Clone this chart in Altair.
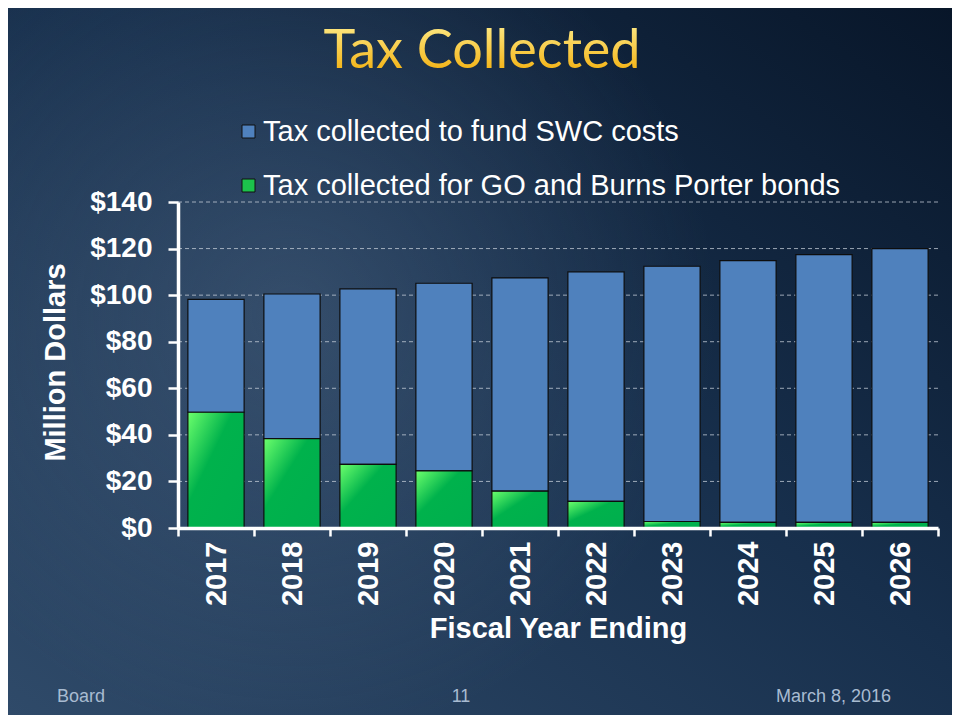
import altair as alt
import pandas as pd

# ---------------- data ----------------
years = ["2017", "2018", "2019", "2020", "2021", "2022", "2023", "2024", "2025", "2026"]
swc_costs = [48.5, 62.1, 75.4, 80.6, 91.6, 98.6, 109.6, 112.4, 115.0, 117.6]
go_bonds = [49.7, 38.4, 27.3, 24.5, 15.8, 11.4, 2.8, 2.4, 2.4, 2.4]
y_ticks = [0, 20, 40, 60, 80, 100, 120, 140]
grid_values = [20, 40, 60, 80, 100, 120, 140]
series_names = ["Tax collected to fund SWC costs", "Tax collected for GO and Burns Porter bonds"]
series_colors = ["#4f81bd", "#1cc24c"]
title_text = ["Tax Collected"]
x_title = "Fiscal Year Ending"
y_title = "Million Dollars"
footer_left = ["Board"]
footer_mid = ["11"]
footer_right = ["March 8, 2016"]

# ---------------- layout ----------------
W, H = 760, 326
PAD = {"left": 170, "top": 194, "right": 14, "bottom": 187}
FONT = "Liberation Sans"

bars_df = pd.DataFrame({"year": years, "swc": swc_costs, "go": go_bonds})
bars_df["top"] = bars_df["go"] + bars_df["swc"]  # stacked top of the SWC segment
bars_df["zero"] = 0

x_axis = alt.Axis(
    title=x_title, labelAngle=-90, labelFont=FONT, labelFontSize=29, labelFontWeight="bold",
    labelColor="white", labelPadding=5, tickSize=8, tickWidth=2.5, tickColor="white",
    tickBand="extent", domainColor="white", domainWidth=3.5, titleFont=FONT,
    titleFontSize=29, titleFontWeight="bold", titleColor="white", titleBaseline="alphabetic",
    titleY=109, grid=False, zindex=1, labelBaseline="middle", labelAlign="right",
)
y_axis = alt.Axis(
    title=y_title, values=y_ticks, labelExpr="'$' + datum.value", labelFont=FONT,
    labelFontSize=28, labelFontWeight="bold", labelColor="white", labelPadding=16,
    tickSize=10, tickWidth=2.5, tickColor="white", domainColor="white", domainWidth=3.5,
    titleFont=FONT, titleFontSize=29, titleFontWeight="bold", titleColor="white",
    titleX=-108, titleY=160, titleBaseline="bottom", grid=False, zindex=1,
)
x_scale = alt.Scale(domain=years, paddingInner=0, paddingOuter=0)
y_scale = alt.Scale(domain=[0, 140], nice=False, zero=True)

# background
bg = alt.Chart(pd.DataFrame({"a": [0]})).mark_rect(
    color=alt.LinearGradient(
        gradient="linear", x1=1, y1=0, x2=0, y2=1,
        stops=[
            alt.GradientStop(offset=0, color="#081629"),
            alt.GradientStop(offset=0.45, color="#172f4c"),
            alt.GradientStop(offset=1, color="#2f4a69"),
        ],
    )
).encode(x=alt.value(-PAD["left"]), x2=alt.value(W + PAD["right"]),
         y=alt.value(-PAD["top"]), y2=alt.value(H + PAD["bottom"]))

glow = alt.Chart(pd.DataFrame({"a": [0]})).mark_rect(
    color=alt.RadialGradient(
        gradient="radial", x1=0.3, y1=0.45, r1=0, x2=0.3, y2=0.45, r2=0.45,
        stops=[
            alt.GradientStop(offset=0, color="rgba(90,115,145,0.40)"),
            alt.GradientStop(offset=1, color="rgba(90,115,145,0)"),
        ],
    )
).encode(x=alt.value(-PAD["left"]), x2=alt.value(W + PAD["right"]),
         y=alt.value(-PAD["top"]), y2=alt.value(H + PAD["bottom"]))

# dashed gridlines (behind bars)
grid = alt.Chart(pd.DataFrame({"v": grid_values})).mark_rule(
    color="#c9d1dc", strokeWidth=1, strokeDash=[4, 3], opacity=0.75
).encode(y=alt.Y("v:Q", scale=y_scale, axis=y_axis), x=alt.value(0), x2=alt.value(W))

blue = alt.Chart(bars_df).mark_bar(
    color=series_colors[0], stroke="#0d0d0d", strokeWidth=1.2, width=alt.RelativeBandSize(0.74)
).encode(
    x=alt.X("year:N", scale=x_scale, axis=x_axis, sort=years),
    y=alt.Y("top:Q", scale=y_scale, axis=y_axis),
    y2="go:Q",
)

green = alt.Chart(bars_df).mark_bar(
    color=alt.LinearGradient(
        gradient="linear", x1=0, y1=0, x2=1, y2=1,
        stops=[
            alt.GradientStop(offset=0, color="#6cff6c"),
            alt.GradientStop(offset=0.4, color="#00b24c"),
            alt.GradientStop(offset=1, color="#00ae4e"),
        ],
    ),
    stroke="#0d0d0d", strokeWidth=1.2, width=alt.RelativeBandSize(0.74),
).encode(
    x=alt.X("year:N", scale=x_scale, axis=x_axis, sort=years),
    y=alt.Y("go:Q", scale=y_scale, axis=y_axis),
    y2="zero:Q",
)

legend_layer = alt.Chart(pd.DataFrame({"series": series_names})).mark_square(opacity=0).encode(
    x=alt.value(0), y=alt.value(0),
    color=alt.Color(
        "series:N",
        scale=alt.Scale(domain=series_names, range=series_colors),
        sort=series_names,
        legend=alt.Legend(
            orient="none", legendX=56, legendY=-85, title=None, symbolType="square",
            symbolSize=169, symbolOpacity=1, symbolStrokeColor="#111111", symbolStrokeWidth=1,
            labelFont=FONT, labelFontSize=29, labelColor="white", labelOffset=0,
            labelLimit=800, rowPadding=24, padding=0, zindex=1, direction="vertical",
        ),
    ),
)

title = alt.Chart(pd.DataFrame({"t": title_text})).mark_text(
    font="Lato", fontSize=54, align="center", baseline="alphabetic",
    fill=alt.LinearGradient(
        gradient="linear", x1=0, y1=0, x2=0, y2=1,
        stops=[
            alt.GradientStop(offset=0, color="#fff39a"),
            alt.GradientStop(offset=1, color="#f2a900"),
        ],
    ),
).encode(text="t:N", x=alt.value(304), y=alt.value(-134))

foot_style = dict(font=FONT, fontSize=18, color="#a8bbd1", baseline="alphabetic")
f1 = alt.Chart(pd.DataFrame({"t": footer_left})).mark_text(align="left", **foot_style).encode(
    text="t:N", x=alt.value(-121), y=alt.value(500))
f2 = alt.Chart(pd.DataFrame({"t": footer_mid})).mark_text(align="center", **foot_style).encode(
    text="t:N", x=alt.value(283), y=alt.value(500))
f3 = alt.Chart(pd.DataFrame({"t": footer_right})).mark_text(align="right", **foot_style).encode(
    text="t:N", x=alt.value(713), y=alt.value(500))

chart = alt.layer(bg, glow, grid, blue, green, title, f1, f2, f3, legend_layer).properties(
    width=W, height=H, padding=PAD, autosize=alt.AutoSizeParams(type="none"),
    background="#16304d",
).configure_view(stroke=None)

chart.save("out.html", embed_options={"renderer": "svg", "actions": False})
